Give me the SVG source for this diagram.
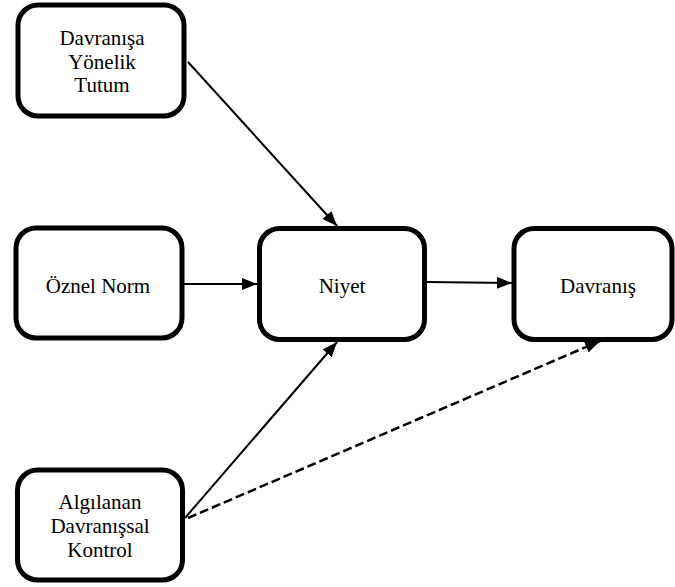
<svg xmlns="http://www.w3.org/2000/svg" width="675" height="587" viewBox="0 0 675 587">
<style>
.box{fill:#fff;stroke:#000;stroke-width:5}
.lbl{font-family:'Liberation Serif','Times New Roman',serif;font-size:21px;fill:#000;text-anchor:middle}
.ln{stroke:#000;stroke-width:2;fill:none}
.dash{stroke:#000;stroke-width:2.5;fill:none;stroke-dasharray:9 4}
</style>
<defs>
<marker id="ah" markerWidth="15" markerHeight="12" refX="15" refY="6" orient="auto" markerUnits="userSpaceOnUse">
<path d="M0,0 L15,6 L0,12 Z" fill="#000"/>
</marker>
</defs>
<rect width="675" height="587" fill="#fff"/>
<g id="connectors">
<line class="ln" x1="188" y1="62" x2="337" y2="226" marker-end="url(#ah)"/>
<line class="ln" x1="183" y1="284" x2="257" y2="284" marker-end="url(#ah)"/>
<line class="ln" x1="427" y1="282" x2="512" y2="283" marker-end="url(#ah)"/>
<line class="ln" x1="185" y1="518" x2="337" y2="342" marker-end="url(#ah)"/>
<line class="dash" x1="188" y1="518" x2="600" y2="341" marker-end="url(#ah)"/>
</g>
<g id="tutum">
<rect class="box" x="18" y="5" width="166" height="111" rx="20"/>
<text class="lbl" x="102" y="45">Davranışa</text>
<text class="lbl" x="102" y="68.5">Yönelik</text>
<text class="lbl" x="102" y="92">Tutum</text>
</g>
<g id="norm">
<rect class="box" x="16" y="228" width="166" height="110" rx="20"/>
<text class="lbl" x="98" y="292.5">Öznel Norm</text>
</g>
<g id="niyet">
<rect class="box" x="259.5" y="228.5" width="165" height="111" rx="20"/>
<text class="lbl" x="342" y="292.5">Niyet</text>
</g>
<g id="davranis">
<rect class="box" x="514" y="228.5" width="158" height="111" rx="20"/>
<text class="lbl" x="598" y="292.5">Davranış</text>
</g>
<g id="kontrol">
<rect class="box" x="17.5" y="470" width="165" height="110" rx="20"/>
<text class="lbl" x="100" y="508.5">Algılanan</text>
<text class="lbl" x="100" y="532.5">Davranışsal</text>
<text class="lbl" x="100" y="556.5">Kontrol</text>
</g>
</svg>
